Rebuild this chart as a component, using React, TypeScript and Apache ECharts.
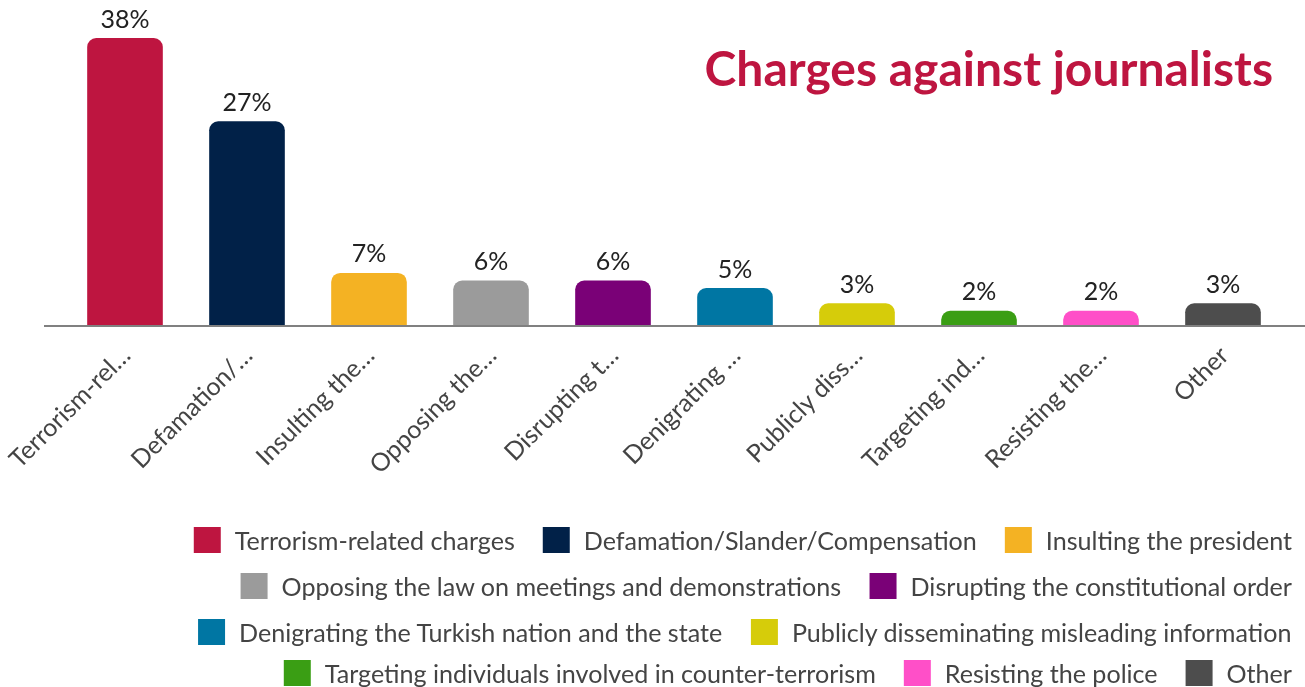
import React, { useEffect, useRef } from "react";
import * as echarts from "echarts";

const categories = [
  "Terrorism-related charges",
  "Defamation/Slander/Compensation",
  "Insulting the president",
  "Opposing the law on meetings and demonstrations",
  "Disrupting the constitutional order",
  "Denigrating the Turkish nation and the state",
  "Publicly disseminating misleading information",
  "Targeting individuals involved in counter-terrorism",
  "Resisting the police",
  "Other",
];

const tickLabels = [
  "Terrorism-rel…",
  "Defamation/…",
  "Insulting the…",
  "Opposing the…",
  "Disrupting t…",
  "Denigrating …",
  "Publicly diss…",
  "Targeting ind…",
  "Resisting the…",
  "Other",
];

const values = [38, 27, 7, 6, 6, 5, 3, 2, 2, 3];

const colors = [
  "#BE1540",
  "#012148",
  "#F4B223",
  "#9B9B9B",
  "#7A0177",
  "#0076A3",
  "#D6CC0A",
  "#3A9E14",
  "#FF4FC8",
  "#4D4D4D",
];

const legendRows = [
  [0, 1, 2],
  [3, 4],
  [5, 6],
  [7, 8, 9],
];
const legendRowCenters = [540, 586, 632, 673];

const FONT = "Lato";

export default function App() {
  const ref = useRef<HTMLDivElement>(null);

  useEffect(() => {
    if (!ref.current) return;
    const chart = echarts.init(ref.current, undefined, { renderer: "svg" });

    const series = categories.map((name, i) => ({
      name,
      type: "bar",
      stack: "total",
      barWidth: "62%",
      itemStyle: { color: colors[i], borderRadius: [9, 9, 0, 0] },
      label: {
        show: true,
        position: "top",
        distance: 8,
        formatter: "{c}%",
        color: "#222",
        fontSize: 25,
        fontFamily: FONT,
      },
      data: values.map((v, j) => (j === i ? v : "-")),
    }));

    const legends = legendRows.map((row, r) => ({
      data: row.map((i) => categories[i]),
      right: 13,
      top: legendRowCenters[r] - 13,
      orient: "horizontal",
      padding: 0,
      icon: "rect",
      itemWidth: 27,
      itemHeight: 26,
      itemGap: 28,
      selectedMode: false,
      textStyle: {
        fontSize: 25.1,
        fontFamily: FONT,
        color: "#444",
        lineHeight: 26,
        padding: [0, 0, 0, 9],
      },
    }));

    chart.setOption({
      animation: false,
      title: {
        text: "Charges against journalists",
        right: 32,
        top: 43,
        padding: 0,
        textStyle: {
          color: "#BE1540",
          fontSize: 48,
          fontWeight: "bold",
          fontFamily: FONT,
        },
      },
      legend: legends,
      grid: { left: 64, right: 21, top: 38, bottom: 361 },
      xAxis: {
        type: "category",
        data: categories,
        axisLine: { show: false },
        axisTick: { show: false },
        axisLabel: {
          interval: 0,
          rotate: 45,
          margin: 24,
          color: "#444",
          fontSize: 25,
          fontFamily: FONT,
          formatter: (_v: string, idx: number) => tickLabels[idx],
        },
      },
      yAxis: {
        type: "value",
        min: 0,
        max: 38,
        show: false,
        splitLine: { show: false },
      },
      graphic: [
        {
          type: "line",
          shape: { x1: 44, y1: 326, x2: 1305, y2: 326 },
          style: { stroke: "#808080", lineWidth: 2 },
          z: 100,
        },
      ],
      series,
    });

    return () => chart.dispose();
  }, []);

  return (
    <div
      ref={ref}
      style={{ position: "fixed", left: 0, top: 0, width: 1305, height: 687 }}
    />
  );
}
